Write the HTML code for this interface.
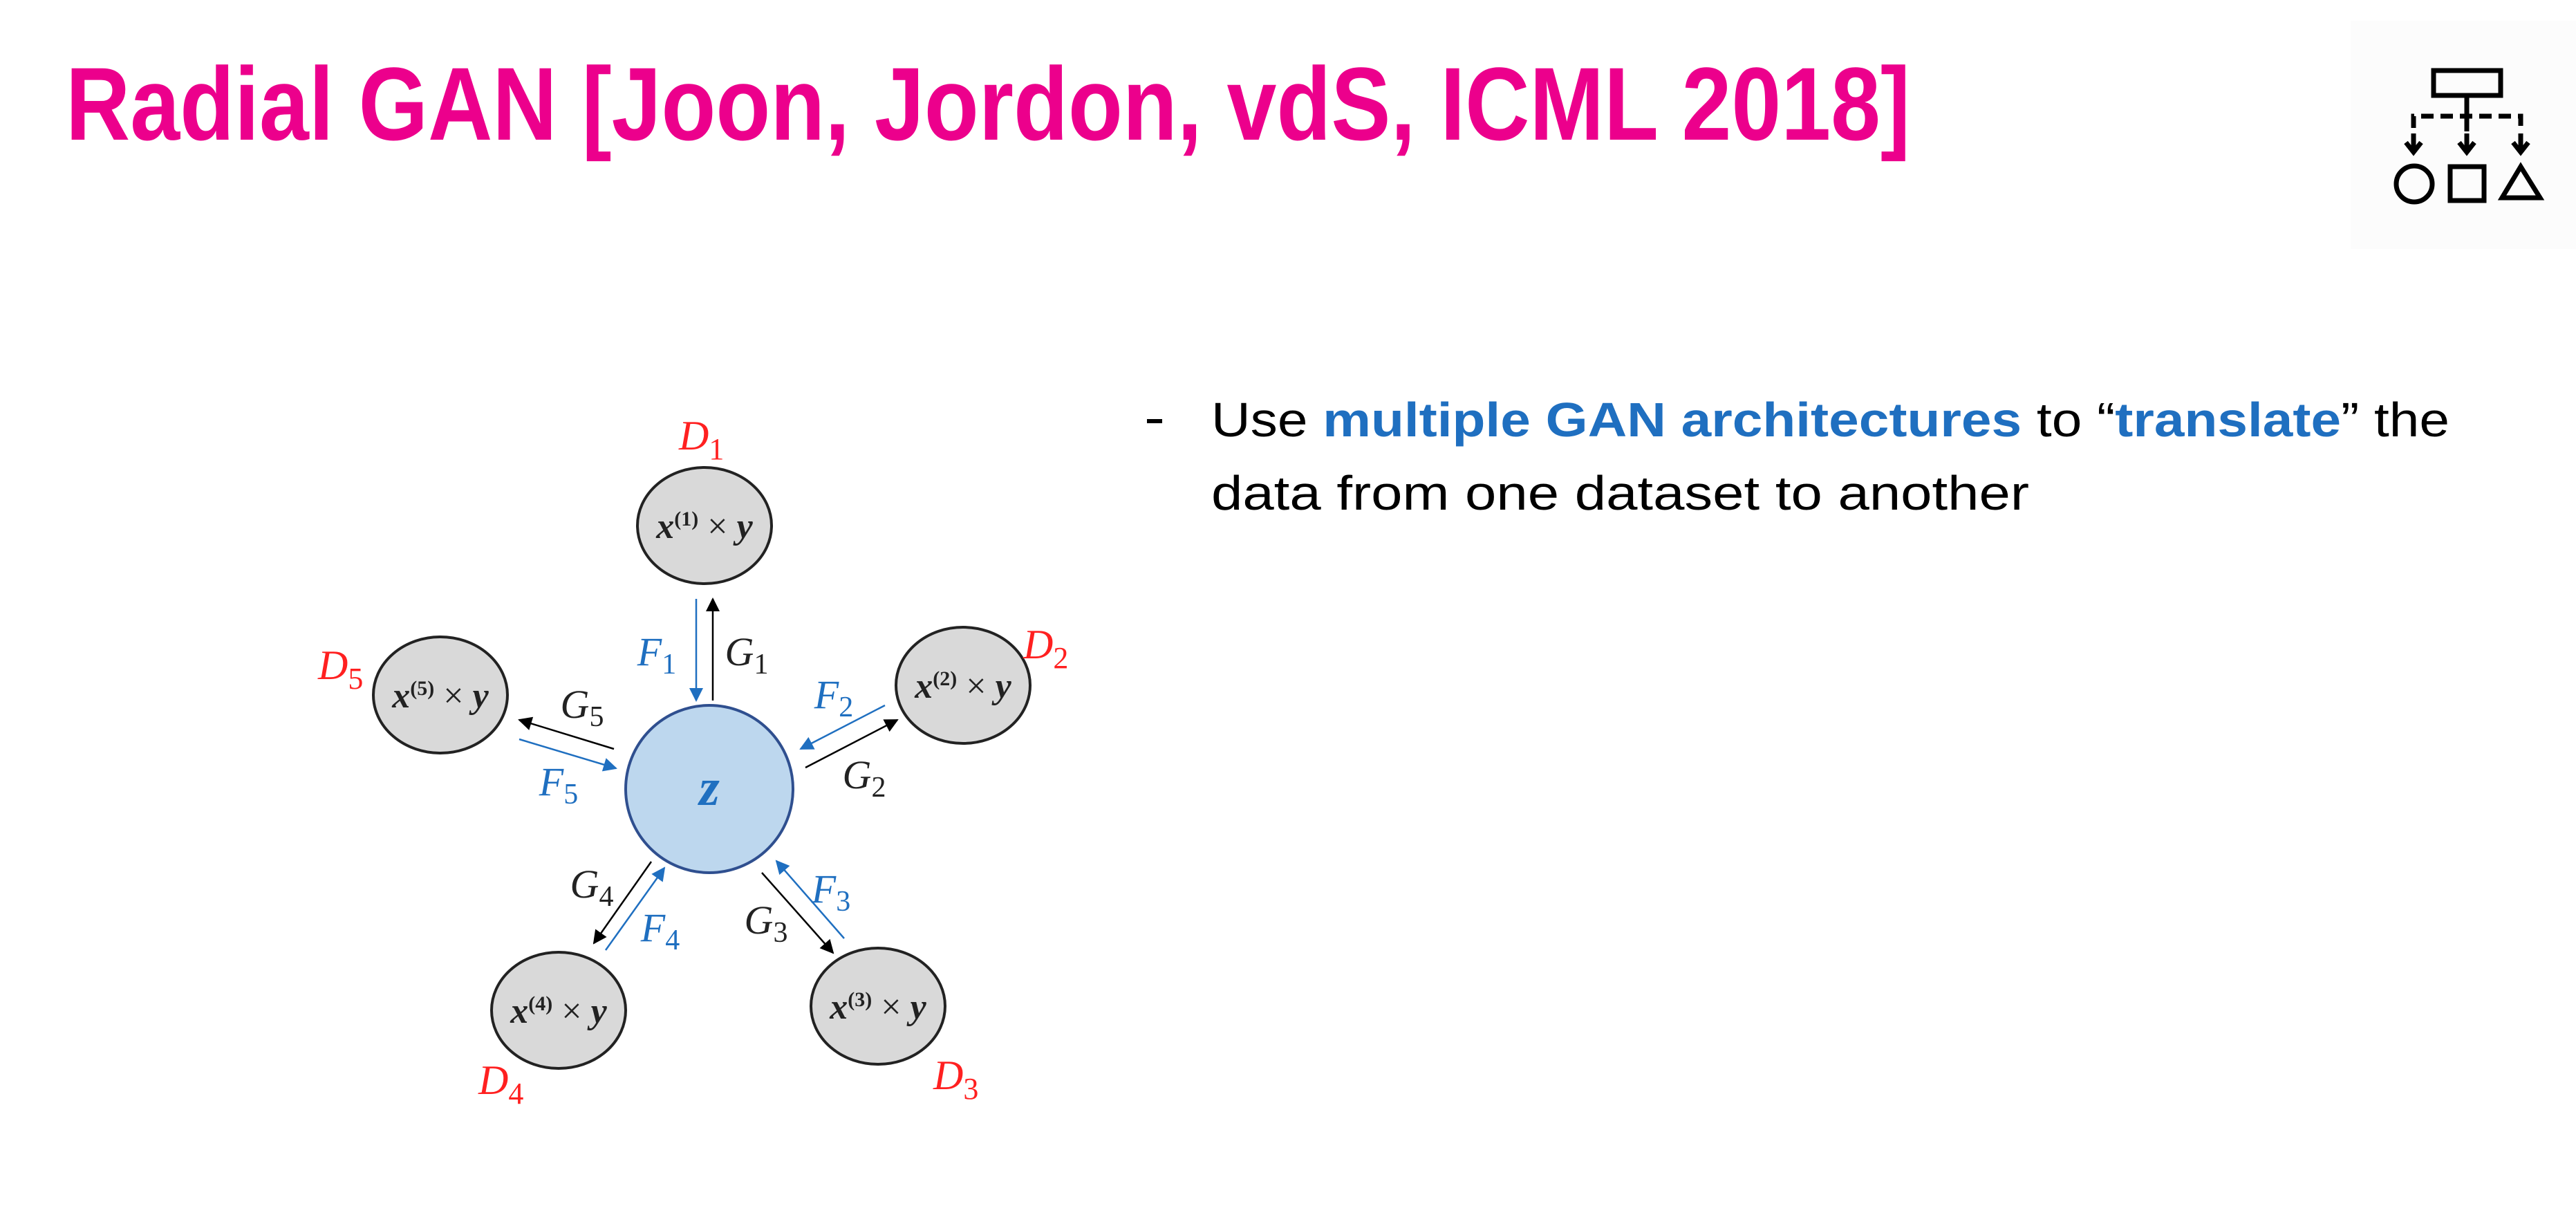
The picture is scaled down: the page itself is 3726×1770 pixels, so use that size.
<!DOCTYPE html>
<html><head><meta charset="utf-8"><style>
html,body{margin:0;padding:0;background:#fff;}
svg{display:block;}
</style></head><body>
<svg width="3726" height="1770" viewBox="0 0 3726 1770" xmlns="http://www.w3.org/2000/svg">
<defs>
<marker id="ab" viewBox="0 0 10 10" refX="9" refY="5" markerWidth="24" markerHeight="20" markerUnits="userSpaceOnUse" orient="auto"><path d="M0,0 L10,5 L0,10 z" fill="#000"/></marker>
<marker id="abl" viewBox="0 0 10 10" refX="9" refY="5" markerWidth="24" markerHeight="20" markerUnits="userSpaceOnUse" orient="auto"><path d="M0,0 L10,5 L0,10 z" fill="#1f6fc0"/></marker>
</defs>
<rect width="3726" height="1770" fill="#fff"/>
<rect x="3400" y="30" width="326" height="330" fill="#fcfcfc"/>
<text x="95" y="202" font-family="Liberation Sans, sans-serif" font-weight="bold" font-size="150" fill="#ec008c" textLength="2668" lengthAdjust="spacingAndGlyphs">Radial GAN [Joon, Jordon, vdS, ICML 2018]</text>
<!-- icon -->
<g stroke="#000" stroke-width="7" fill="none">
<rect x="3520" y="102" width="97" height="36"/>
<line x1="3568" y1="138" x2="3568" y2="190"/>
<path d="M3491,185 L3491,168 L3646,168 L3646,185" stroke-dasharray="18,10"/>
<line x1="3491" y1="193" x2="3491" y2="220"/><path d="M3480,206 L3491,220 L3502,206"/>
<line x1="3568" y1="193" x2="3568" y2="220"/><path d="M3557,206 L3568,220 L3579,206"/>
<line x1="3646" y1="193" x2="3646" y2="220"/><path d="M3635,206 L3646,220 L3657,206"/>
<circle cx="3492" cy="266" r="26"/>
<rect x="3544" y="241" width="49" height="49"/>
<path d="M3646,241 L3674,286 L3619,286 z"/>
</g>
<!-- bullet -->
<rect x="1659" y="606" width="22" height="6" fill="#000"/>
<text x="1752" y="631" font-family="Liberation Sans, sans-serif" font-size="70" fill="#000" textLength="1791" lengthAdjust="spacingAndGlyphs">Use <tspan fill="#1f6fc0" font-weight="bold">multiple GAN architectures</tspan> to “<tspan fill="#1f6fc0" font-weight="bold">translate</tspan>” the</text>
<text x="1752" y="737" font-family="Liberation Sans, sans-serif" font-size="70" fill="#000" textLength="1183" lengthAdjust="spacingAndGlyphs">data from one dataset to another</text>
<!-- diagram -->
<g stroke="#222" stroke-width="4" fill="#d9d9d9">
<ellipse cx="1019" cy="760" rx="97" ry="84"/>
<ellipse cx="1393" cy="991" rx="97" ry="84"/>
<ellipse cx="1270" cy="1455" rx="97" ry="84"/>
<ellipse cx="808" cy="1461" rx="97" ry="84"/>
<ellipse cx="637" cy="1005" rx="97" ry="84"/>
</g>
<circle cx="1026" cy="1141" r="121" fill="#bdd7ee" stroke="#2f4f8f" stroke-width="4"/>
<text x="1026" y="1164" text-anchor="middle" font-family="Liberation Serif, serif" font-style="italic" font-weight="bold" font-size="76" fill="#1f6fc0">z</text>
<g font-family="Liberation Serif, serif" font-style="italic" font-weight="bold" font-size="52" fill="#222" text-anchor="middle">
<text x="1019" y="778">x<tspan font-size="30" dy="-18" font-style="normal">(1)</tspan><tspan dy="18" font-weight="normal" font-style="normal"> × </tspan>y</text>
<text x="1393" y="1009">x<tspan font-size="30" dy="-18" font-style="normal">(2)</tspan><tspan dy="18" font-weight="normal" font-style="normal"> × </tspan>y</text>
<text x="1270" y="1473">x<tspan font-size="30" dy="-18" font-style="normal">(3)</tspan><tspan dy="18" font-weight="normal" font-style="normal"> × </tspan>y</text>
<text x="808" y="1479">x<tspan font-size="30" dy="-18" font-style="normal">(4)</tspan><tspan dy="18" font-weight="normal" font-style="normal"> × </tspan>y</text>
<text x="637" y="1023">x<tspan font-size="30" dy="-18" font-style="normal">(5)</tspan><tspan dy="18" font-weight="normal" font-style="normal"> × </tspan>y</text>
</g>
<g font-family="Liberation Serif, serif" font-style="italic" font-size="60" fill="#ff2020">
<text x="982" y="650">D<tspan font-style="normal" font-size="44" dy="14">1</tspan></text>
<text x="1480" y="952">D<tspan font-style="normal" font-size="44" dy="14">2</tspan></text>
<text x="1350" y="1575">D<tspan font-style="normal" font-size="44" dy="14">3</tspan></text>
<text x="692" y="1582">D<tspan font-style="normal" font-size="44" dy="14">4</tspan></text>
<text x="460" y="982">D<tspan font-style="normal" font-size="44" dy="14">5</tspan></text>
</g>
<g stroke-width="2.5">
<line x1="1007" y1="866" x2="1007" y2="1013" stroke="#1f6fc0" marker-end="url(#abl)"/>
<line x1="1031" y1="1013" x2="1031" y2="866" stroke="#000" marker-end="url(#ab)"/>
<line x1="1280" y1="1020" x2="1158" y2="1083" stroke="#1f6fc0" marker-end="url(#abl)"/>
<line x1="1165" y1="1110" x2="1298" y2="1041" stroke="#000" marker-end="url(#ab)"/>
<line x1="888" y1="1083" x2="751" y2="1041" stroke="#000" marker-end="url(#ab)"/>
<line x1="751" y1="1069" x2="891" y2="1111" stroke="#1f6fc0" marker-end="url(#abl)"/>
<line x1="942" y1="1246" x2="859" y2="1364" stroke="#000" marker-end="url(#ab)"/>
<line x1="876" y1="1374" x2="961" y2="1255" stroke="#1f6fc0" marker-end="url(#abl)"/>
<line x1="1102" y1="1262" x2="1205" y2="1378" stroke="#000" marker-end="url(#ab)"/>
<line x1="1221" y1="1357" x2="1123" y2="1245" stroke="#1f6fc0" marker-end="url(#abl)"/>
</g>
<g font-family="Liberation Serif, serif" font-style="italic" font-size="58" text-anchor="middle">
<text x="950" y="962" fill="#1f6fc0">F<tspan font-style="normal" font-size="42" dy="12">1</tspan></text>
<text x="1080" y="962" fill="#222">G<tspan font-style="normal" font-size="42" dy="12">1</tspan></text>
<text x="1206" y="1024" fill="#1f6fc0">F<tspan font-style="normal" font-size="42" dy="12">2</tspan></text>
<text x="1250" y="1140" fill="#222">G<tspan font-style="normal" font-size="42" dy="12">2</tspan></text>
<text x="1202" y="1305" fill="#1f6fc0">F<tspan font-style="normal" font-size="42" dy="12">3</tspan></text>
<text x="1108" y="1350" fill="#222">G<tspan font-style="normal" font-size="42" dy="12">3</tspan></text>
<text x="955" y="1361" fill="#1f6fc0">F<tspan font-style="normal" font-size="42" dy="12">4</tspan></text>
<text x="856" y="1298" fill="#222">G<tspan font-style="normal" font-size="42" dy="12">4</tspan></text>
<text x="808" y="1150" fill="#1f6fc0">F<tspan font-style="normal" font-size="42" dy="12">5</tspan></text>
<text x="842" y="1038" fill="#222">G<tspan font-style="normal" font-size="42" dy="12">5</tspan></text>
</g>
</svg>
</body></html>
